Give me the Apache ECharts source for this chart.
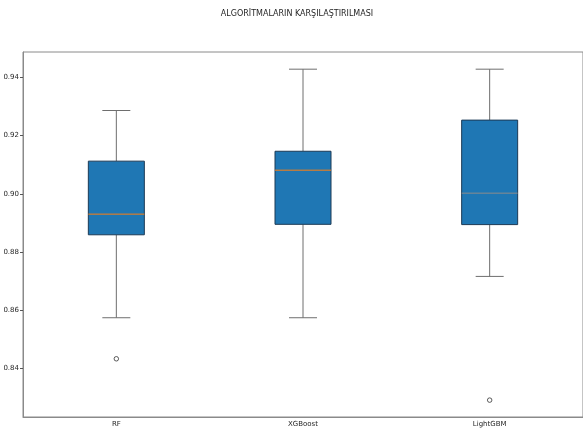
<!DOCTYPE html>
<html><head><meta charset="utf-8">
<script src="https://cdn.jsdelivr.net/npm/echarts@6/dist/echarts.min.js"></script>
<style>html,body{margin:0;padding:0;background:#fff}#c{width:583px;height:432px}</style>
</head><body><div id="c"></div>
<script>
const titleText = "ALGORİTMALARIN KARŞILAŞTIRILMASI";
const categories = ["RF", "XGBoost", "LightGBM"];
const whiskerLow = [0.8574, 0.8574, 0.8716];
const q1 = [0.8859, 0.8895, 0.8894];
const median = [0.8930, 0.9081, 0.9002];
const q3 = [0.9112, 0.9146, 0.9253];
const whiskerHigh = [0.9286, 0.9428, 0.9428];
const outlierCategory = ["RF", "LightGBM"];
const outlierValue = [0.8433, 0.8291];
const medianColors = ["#ff7f0e", "#ff7f0e", "#8c8c8c"];
const yTicks = [0.84, 0.86, 0.88, 0.90, 0.92, 0.94];

const boxData = categories.map((c, i) => [i, whiskerLow[i], q1[i], median[i], q3[i], whiskerHigh[i]]);
const outlierData = outlierCategory.map((c, i) => [categories.indexOf(c), outlierValue[i]]);

const chart = echarts.init(document.getElementById('c'), null, {renderer: 'canvas'});
chart.setOption({
  animation: false,
  title: {
    text: titleText, left: 292, top: 5, textAlign: 'center',
    textStyle: {fontFamily: 'DejaVu Sans', fontSize: 8, fontWeight: 'normal', color: '#262626'}
  },
  grid: {left: 23, top: 52, width: 564, height: 365, containLabel: false,
    show: true, borderColor: '#8a8a8a', borderWidth: 1, backgroundColor: 'transparent'},
  xAxis: {
    type: 'category', data: categories, boundaryGap: true,
    axisLine: {lineStyle: {color: '#8a8a8a', width: 1}},
    axisTick: {alignWithLabel: true, length: 3, lineStyle: {color: '#555'}},
    axisLabel: {fontFamily: 'DejaVu Sans', fontSize: 7, color: '#262626', margin: 4},
    splitLine: {show: false}
  },
  yAxis: {
    type: 'value', min: 0.8233, max: 0.9487,
    axisLine: {show: true, lineStyle: {color: '#8a8a8a', width: 1}},
    axisTick: {show: true, length: 3, lineStyle: {color: '#555'}, customValues: yTicks},
    axisLabel: {fontFamily: 'DejaVu Sans', fontSize: 7, color: '#262626', margin: 4,
      customValues: yTicks, formatter: v => v.toFixed(2)},
    splitLine: {show: false}
  },
  series: [
    {
      type: 'custom',
      data: boxData,
      renderItem: function (params, api) {
        const i = api.value(0);
        const pLow = api.coord([i, api.value(1)]);
        const pQ1 = api.coord([i, api.value(2)]);
        const pMed = api.coord([i, api.value(3)]);
        const pQ3 = api.coord([i, api.value(4)]);
        const pHigh = api.coord([i, api.value(5)]);
        const band = api.size([1, 0])[0];
        const bw = band * 0.3;
        const cw = bw / 2;
        const x = pQ1[0];
        const wl = {stroke: '#6e6e6e', lineWidth: 1};
        return {
          type: 'group',
          children: [
            {type: 'line', shape: {x1: x, y1: pQ3[1], x2: x, y2: pHigh[1]}, style: wl},
            {type: 'line', shape: {x1: x, y1: pQ1[1], x2: x, y2: pLow[1]}, style: wl},
            {type: 'line', shape: {x1: x - cw / 2, y1: pHigh[1], x2: x + cw / 2, y2: pHigh[1]}, style: wl},
            {type: 'line', shape: {x1: x - cw / 2, y1: pLow[1], x2: x + cw / 2, y2: pLow[1]}, style: wl},
            {type: 'rect', shape: {x: x - bw / 2, y: pQ3[1], width: bw, height: pQ1[1] - pQ3[1]},
              style: {fill: '#1f77b4', stroke: '#1c3a55', lineWidth: 1}},
            {type: 'line', shape: {x1: x - bw / 2, y1: pMed[1], x2: x + bw / 2, y2: pMed[1]},
              style: {stroke: medianColors[params.dataIndex], lineWidth: 1}}
          ]
        };
      }
    },
    {
      type: 'scatter', data: outlierData, symbol: 'circle', symbolSize: 4.5,
      itemStyle: {color: '#ffffff', borderColor: '#333333', borderWidth: 1}
    }
  ]
});
</script></body></html>
